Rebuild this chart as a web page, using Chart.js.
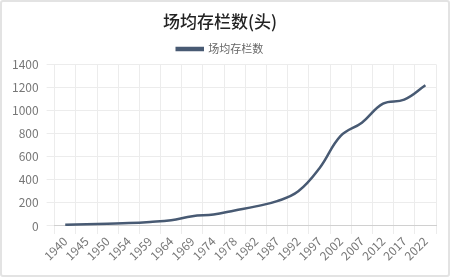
<!DOCTYPE html>
<html>
<head>
<meta charset="utf-8">
<script src="https://cdn.jsdelivr.net/npm/chart.js@4"></script>
<style>
  html, body { margin: 0; padding: 0; background: #fff; }
  #wrap { position: relative; width: 446px; height: 273px; border: 2px solid #e3e3e3; border-radius: 3px; }
</style>
</head>
<body>
<div id="wrap"><canvas id="chart"></canvas></div>
<script>
// 年份
var years = ["1940", "1945", "1950", "1954", "1959", "1964", "1969", "1974", "1978",
    "1982", "1987", "1992", "1997", "2002", "2007", "2012", "2017", "2022"];
// 场均存栏数(头)
var headcount = [10, 15, 20, 25, 35, 50, 85, 100, 135,
    170, 215, 300, 500, 780, 895, 1060, 1095, 1220];
var yTicks = [0, 200, 400, 600, 800, 1000, 1200, 1400];

var fontFamily = "'Noto Sans CJK SC', 'Noto Sans', sans-serif";

var ctx = document.getElementById("chart");
var myChart = new Chart(ctx, {
    type: "line",
    data: {
        labels: years,
        datasets: [
            {
                label: "场均存栏数",
                data: headcount,
                borderColor: "#485a73",
                backgroundColor: "#485a73",
                borderWidth: 2.5,
                pointRadius: 0,
                tension: 0.4,
                fill: false,
            },
        ],
    },
    options: {
        responsive: true,
        maintainAspectRatio: false,
        animation: false,
        layout: {
            padding: { left: 2, right: 12, top: 4, bottom: 12 },
        },
        plugins: {
            title: {
                display: true,
                text: "场均存栏数(头)",
                color: "#222",
                font: { family: fontFamily, size: 17, weight: "500" },
                padding: { top: 5, bottom: 8 },
            },
            legend: {
                position: "top",
                labels: {
                    color: "#666",
                    font: { family: fontFamily, size: 11 },
                    boxWidth: 26,
                    boxHeight: 2,
                    padding: 4,
                },
            },
            tooltip: { enabled: false },
        },
        scales: {
            x: {
                offset: true,
                grid: {
                    offset: true,
                    color: "#ececec",
                },
                border: { color: "#d0d0d0" },
                ticks: {
                    color: "#777",
                    font: { family: fontFamily, size: 12 },
                    maxRotation: 45,
                    minRotation: 45,
                    autoSkip: false,
                    padding: 0,
                },
            },
            y: {
                min: 0,
                max: 1400,
                afterBuildTicks: function (axis) {
                    axis.ticks = yTicks.map(function (v) { return { value: v }; });
                },
                grid: { color: "#ececec" },
                border: { display: false },
                ticks: {
                    color: "#777",
                    font: { family: fontFamily, size: 12 },
                    padding: 8,
                    callback: function (value) { return String(value); },
                },
            },
        },
    },
});
</script>
</body>
</html>
